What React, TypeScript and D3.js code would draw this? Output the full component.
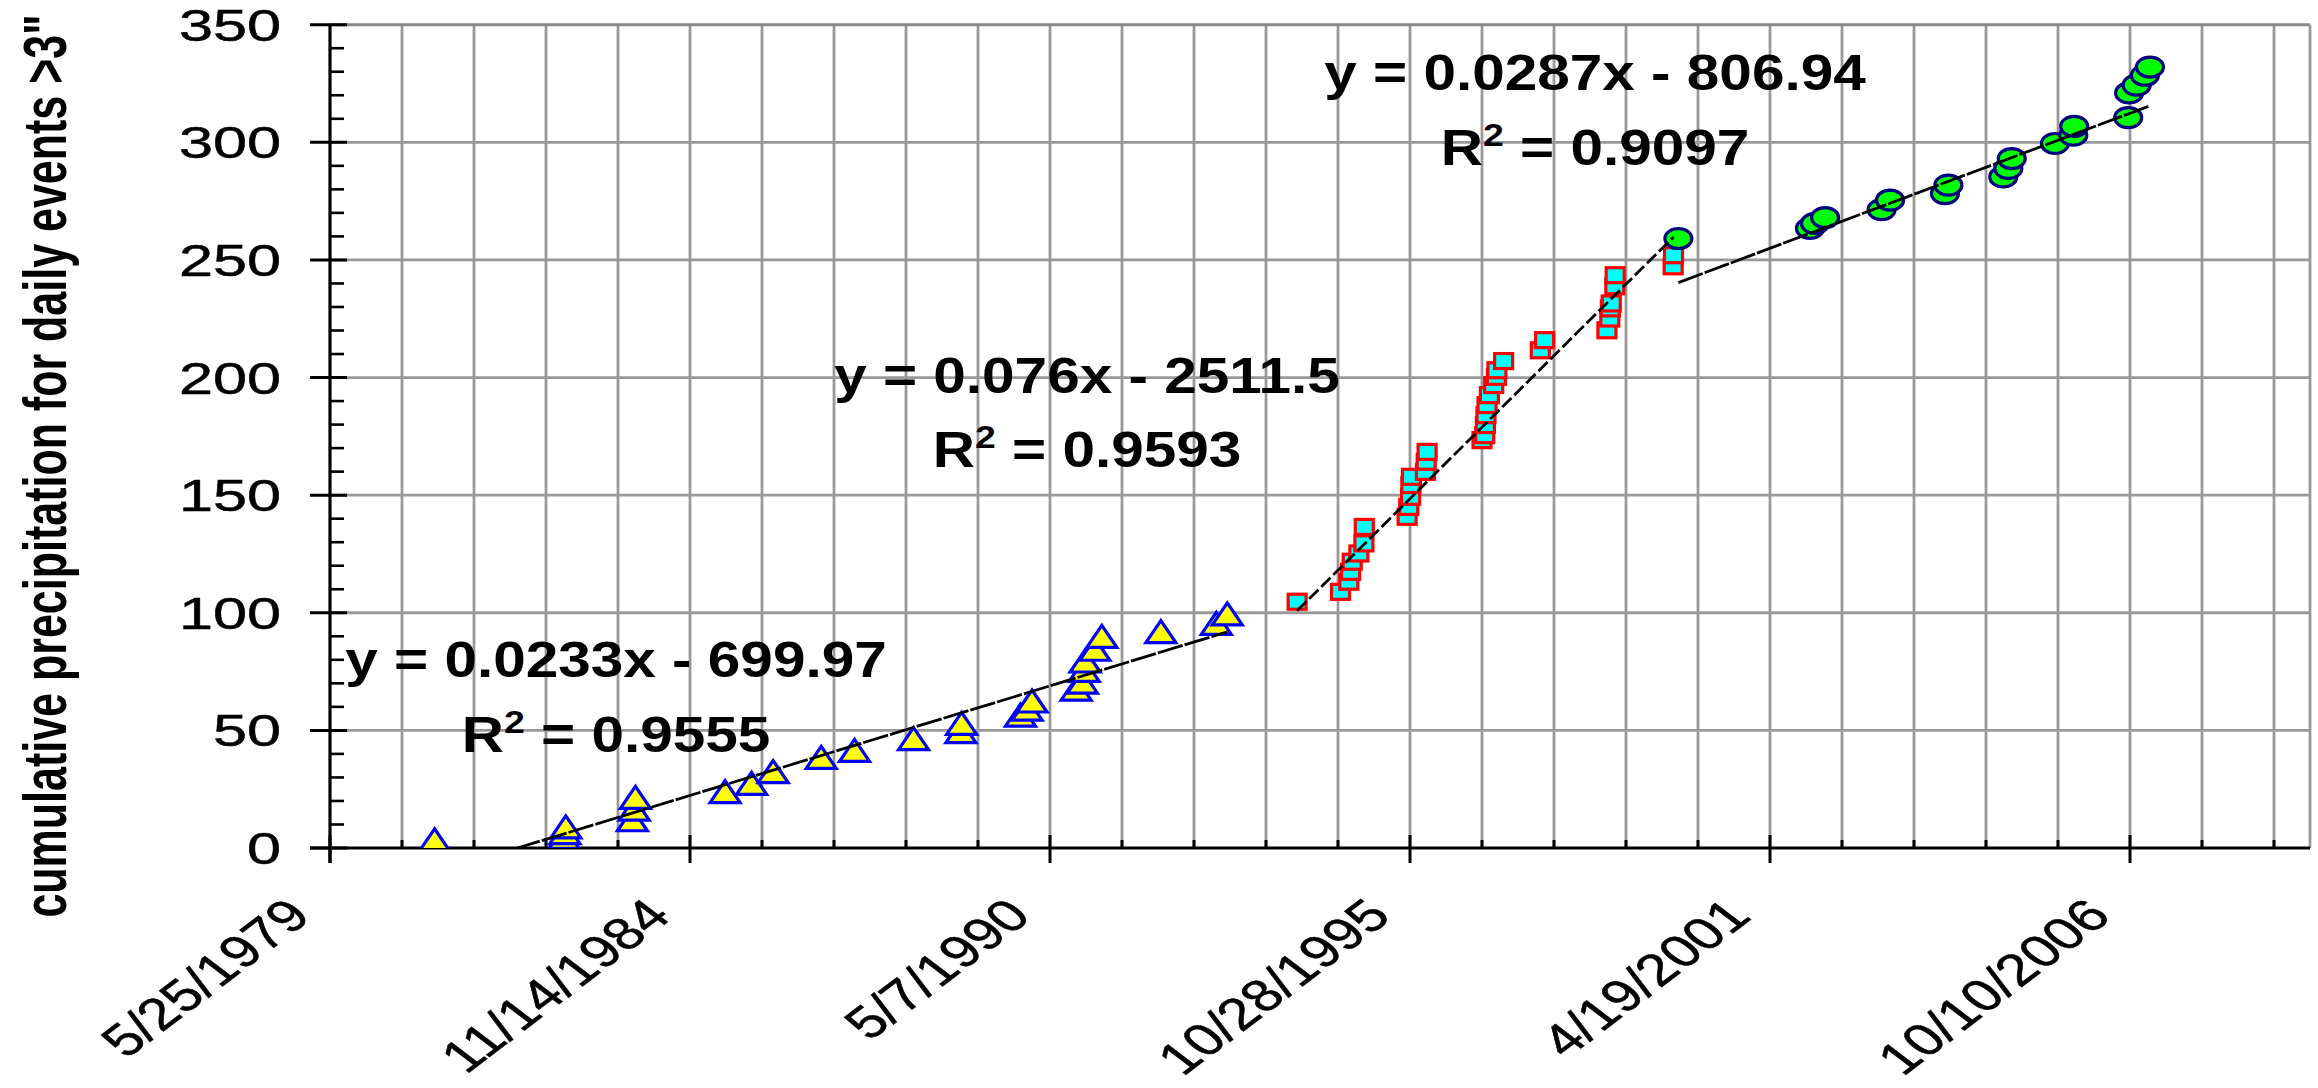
import React from 'react';
import * as d3 from 'd3';

// dates are Excel serial day numbers (5/25/1979 = 29000)
const s1Dates = [29581, 30300, 30305, 30310, 30680, 30690, 30697, 31195, 31342, 31462, 31729, 31914, 32242, 32505, 32509, 32836, 32873, 32900, 33145, 33180, 33190, 33195, 33249, 33288, 33616, 33924, 33985];
const s1Values = [3.5, 4.5, 6.5, 9, 12, 16.5, 21.5, 24, 27.5, 32.5, 38.5, 41.5, 46.5, 49.5, 53, 56.5, 59, 62.5, 67.5, 70.5, 75.5, 79.5, 84.5, 90, 92, 95.5, 99.5];

const s2Dates = [34373, 34614, 34660, 34670, 34679, 34716, 34744, 34746, 34984, 34993, 35003, 35005, 35008, 35086, 35090, 35095, 35400, 35415, 35419, 35422, 35428, 35441, 35465, 35480, 35483, 35520, 35724, 35748, 36094, 36110, 36113, 36118, 36138, 36140, 36462, 36464];
const s2Values = [104.7, 108.9, 113.2, 117.4, 121.7, 125.2, 129.5, 136.5, 140.8, 145, 149.3, 154.3, 157.8, 159.9, 164.2, 168.4, 173.4, 175.5, 179.8, 184, 188.3, 192.5, 196.8, 200.3, 203.1, 207, 211.6, 215.9, 220.1, 225.1, 229.4, 231.5, 238.8, 243.5, 247.3, 252];

const s3Dates = [36491, 37222, 37250, 37306, 37620, 37667, 37972, 37991, 38296, 38324, 38343, 38583, 38685, 38690, 38990, 38995, 39037, 39083, 39111];
const s3Values = [259.1, 263.4, 265.5, 268, 271.4, 275.4, 278.2, 281.8, 285.3, 288.9, 293.1, 299.5, 303, 306.8, 310.5, 321, 324.3, 328.5, 332];

const slopes = [0.0233, 0.076, 0.0287];
const intercepts = [-699.97, -2511.5, -806.94];
const eqLabels = ['y = 0.0233x - 699.97', 'y = 0.076x - 2511.5', 'y = 0.0287x - 806.94'];
const r2Labels = ['0.9555', '0.9593', '0.9097'];

const xTickLabels = ['5/25/1979', '11/14/1984', '5/7/1990', '10/28/1995', '4/19/2001', '10/10/2006'];
const yTickLabels = ['0', '50', '100', '150', '200', '250', '300', '350'];

const yTitle = 'cumulative precipitation for daily events >3"';

// layout
const W = 2318;
const H = 1088;
const left = 330, right = 2310, top = 24.7, bottom = 848;
const eqPos = [
  { x: 616, y: 677, dy: 75 },
  { x: 1087, y: 393, dy: 74 },
  { x: 1595, y: 90, dy: 75 },
];
const font = 'Liberation Sans, Arial, sans-serif';
const sx = 1.36; // the original picture is stretched sideways

const x = d3.scaleLinear().domain([29000, 40000]).range([left, right]);
const y = d3.scaleLinear().domain([0, 350]).range([bottom, top]);

const gridColor = '#999999';

const triPath = (cx: number, cy: number) =>
  `M${cx},${cy - 11}L${cx + 15},${cy + 11}L${cx - 15},${cy + 11}Z`;

export default function App() {
  const series = [
    { d: s1Dates, v: s1Values },
    { d: s2Dates, v: s2Values },
    { d: s3Dates, v: s3Values },
  ];

  const vGrid = d3.range(29400, 40000, 400);
  const xMajor = d3.range(29000, 40000, 2000);
  const xMinor = d3.range(29400, 40000, 400).filter((v) => (v - 29000) % 2000 !== 0);
  const hGrid = d3.range(50, 350, 50);
  const yMajor = d3.range(0, 351, 50);
  const yMinor = d3.range(0, 351, 10).filter((v) => v % 50 !== 0);

  return (
    <svg
      width={W}
      height={H}
      style={{ position: 'absolute', left: 0, top: 0, display: 'block', background: '#fff' }}
      fontFamily={font}
    >
      <defs>
        <clipPath id="plot">
          <rect x={left} y={top} width={right - left} height={bottom - top} />
        </clipPath>
      </defs>

      {/* gridlines */}
      {hGrid.map((v) => (
        <line key={'h' + v} x1={left} x2={right} y1={y(v)} y2={y(v)} stroke={gridColor} strokeWidth={2.8} />
      ))}
      {vGrid.map((v) => (
        <line key={'v' + v} x1={x(v)} x2={x(v)} y1={top} y2={bottom} stroke={gridColor} strokeWidth={2.8} />
      ))}
      <line x1={left} x2={right} y1={top} y2={top} stroke="#888" strokeWidth={3} />
      <line x1={right} x2={right} y1={top} y2={bottom} stroke="#999" strokeWidth={2.8} />

      {/* axes */}
      <line x1={left} x2={left} y1={top} y2={bottom + 15} stroke="#000" strokeWidth={3.2} />
      <line x1={left - 20} x2={right} y1={bottom} y2={bottom} stroke="#000" strokeWidth={3.2} />
      {yMajor.map((v) => (
        <line key={'ym' + v} x1={left - 20} x2={left + 17} y1={y(v)} y2={y(v)} stroke="#000" strokeWidth={3} />
      ))}
      {yMinor.map((v) => (
        <line key={'yn' + v} x1={left} x2={left + 14} y1={y(v)} y2={y(v)} stroke="#000" strokeWidth={2.6} />
      ))}
      {xMajor.map((v) => (
        <line key={'xm' + v} x1={x(v)} x2={x(v)} y1={bottom - 13} y2={bottom + 15} stroke="#000" strokeWidth={3} />
      ))}
      {xMinor.map((v) => (
        <line key={'xn' + v} x1={x(v)} x2={x(v)} y1={bottom - 8} y2={bottom} stroke="#000" strokeWidth={3} />
      ))}

      {/* y tick labels */}
      {yMajor.map((v, i) => (
        <text
          key={'yl' + v}
          transform={`translate(${left - 49},${y(v) + 16}) scale(${sx},1)`}
          textAnchor="end"
          fontSize={45}
          fill="#000"
          stroke="#000"
          strokeWidth={0.5}
        >
          {yTickLabels[i]}
        </text>
      ))}

      {/* x tick labels */}
      {xMajor.map((v, i) => (
        <text
          key={'xl' + v}
          transform={`translate(${x(v) - 17},${bottom + 70}) scale(1.32,1) rotate(-45)`}
          textAnchor="end"
          fontSize={45}
          fill="#000"
          stroke="#000"
          strokeWidth={0.5}
        >
          {xTickLabels[i]}
        </text>
      ))}

      {/* y title */}
      <text
        transform={`translate(66,466) scale(1.42,1) rotate(-90)`}
        textAnchor="middle"
        fontSize={43}
        fontWeight="bold"
        fill="#000"
      >
        {yTitle}
      </text>

      {/* markers */}
      <g clipPath="url(#plot)">
        {s1Dates.map((d, i) => (
          <path key={'t' + i} d={triPath(x(d), y(s1Values[i]))} fill="#ffff00" stroke="#0000ff" strokeWidth={3.2} />
        ))}
        {s2Dates.map((d, i) => (
          <rect key={'s' + i} x={x(d) - 9} y={y(s2Values[i]) - 7.5} width={18} height={15} fill="#00ffff" stroke="#ff0000" strokeWidth={3.2} />
        ))}
        {s3Dates.map((d, i) => (
          <ellipse key={'c' + i} cx={x(d)} cy={y(s3Values[i])} rx={13.5} ry={10} fill="#00ff00" stroke="#000080" strokeWidth={3.2} />
        ))}

        {/* trend lines */}
        {series.map((s, i) => {
          const [x0, x1] = d3.extent(s.d) as [number, number];
          const pts: [number, number][] = [x0, x1].map((t) => [x(t), y(slopes[i] * t + intercepts[i])]);
          return (
            <path
              key={'tr' + i}
              d={d3.line()(pts) || ''}
              fill="none"
              stroke="#000"
              strokeWidth={2.8}
              strokeDasharray={i === 1 ? '13 4' : '26 2'}
            />
          );
        })}
      </g>

      {/* trend line equations */}
      {eqPos.map((p, i) => (
        <g key={'eq' + i} fontWeight="bold" fontSize={50} fill="#000">
          <text transform={`translate(${p.x},${p.y}) scale(1.17,1)`} textAnchor="middle">
            {eqLabels[i]}
          </text>
          <text transform={`translate(${p.x},${p.y + p.dy}) scale(1.17,1)`} textAnchor="middle">
            R<tspan fontSize={32} dy={-19}>2</tspan>
            <tspan dy={19}>{' = ' + r2Labels[i]}</tspan>
          </text>
        </g>
      ))}
    </svg>
  );
}
